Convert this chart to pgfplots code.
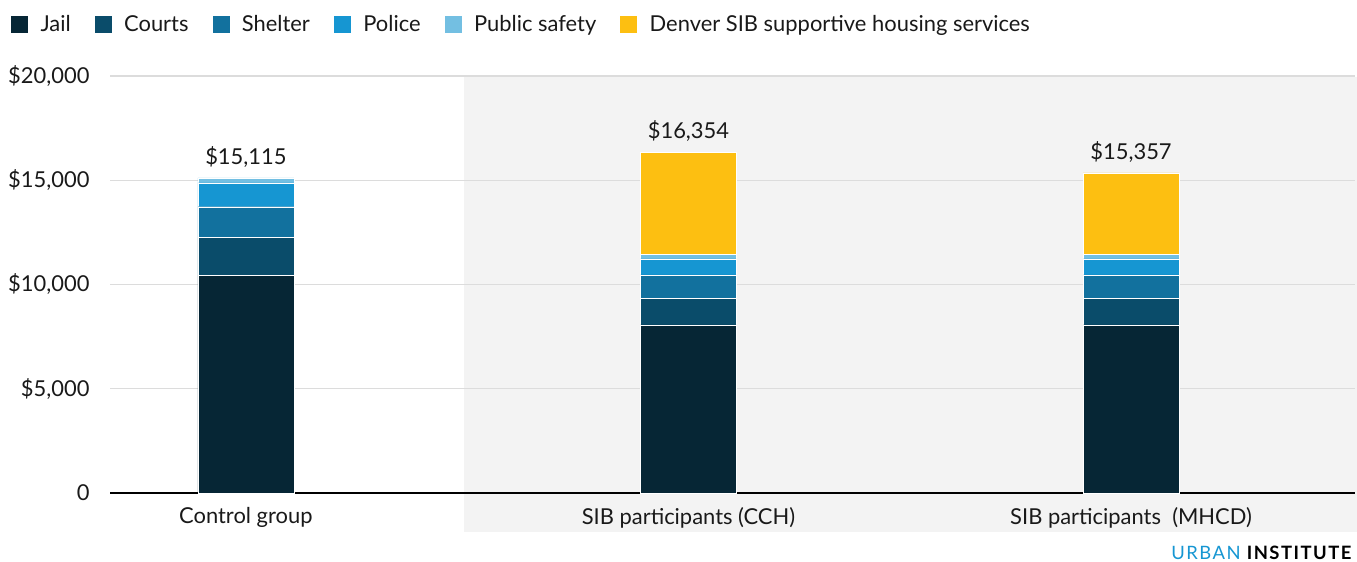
\documentclass[border=0pt]{standalone}
\usepackage{pgfplots}
\pgfplotsset{compat=1.18}
\usepackage{fontspec}
\setmainfont{Lato}
\definecolor{cJail}{HTML}{062635}
\definecolor{cCourts}{HTML}{0A4C6A}
\definecolor{cShelter}{HTML}{12719E}
\definecolor{cPolice}{HTML}{1696D2}
\definecolor{cPublic}{HTML}{73BFE2}
\definecolor{cHousing}{HTML}{FDBF11}
\definecolor{cBand}{HTML}{F3F3F3}
\definecolor{cGrid}{HTML}{DCDCDC}
\pgfplotsset{sq legend/.style={legend image code/.code={\fill[##1] (0bp,-9bp) rectangle (18bp,9bp);}}}
\begin{document}
\begin{tikzpicture}
\useasboundingbox (0,0) rectangle (1357bp,562bp);
\fill[cBand] (464bp,30bp) rectangle (1357bp,485bp);
\begin{axis}[
  at={(110bp,69bp)}, anchor=south west,
  scale only axis, width=1245bp, height=417bp,
  ybar stacked, bar width=96bp,
  xmin=-0.307, xmax=2.506, ymin=0, ymax=20000,
  xtick={0,1,2}, xticklabels={Control group, SIB participants (CCH), SIB participants\ \ (MHCD)},
  ytick={0,5000,10000,15000,20000},
  yticklabels={0,{\$5,000},{\$10,000},{\$15,000},{\$20,000}},
  scaled y ticks=false,
  ymajorgrids, grid style={cGrid, line width=1.4bp},
  axis x line*=bottom, axis y line*=left,
  x axis line style={black, line width=1.8bp},
  y axis line style={draw=none},
  major tick length=0pt,
  tick label style={font=\fontsize{22}{26}\selectfont, text=black!90},
  xticklabel style={yshift=-11bp},
  yticklabel style={xshift=-17bp},
  clip=false,
  legend columns=6,
  legend style={at={(-0.0803,1.1247)}, anchor=west, draw=none, fill=none, inner sep=0pt,
    font=\fontsize{22}{26}\selectfont, text=black!90,
    /tikz/every odd column/.append style={column sep=10bp},
    /tikz/every even column/.append style={column sep=21bp}},
  legend cell align=left,
]
\addplot[fill=cJail, draw=white, line width=0.4bp, sq legend] coordinates {(0,10450) (1,8060) (2,8060)};
\addplot[fill=cCourts, draw=white, line width=0.4bp, sq legend] coordinates {(0,1810) (1,1280) (2,1280)};
\addplot[fill=cShelter, draw=white, line width=0.4bp, sq legend] coordinates {(0,1470) (1,1120) (2,1120)};
\addplot[fill=cPolice, draw=white, line width=0.4bp, sq legend] coordinates {(0,1150) (1,770) (2,770)};
\addplot[fill=cPublic, draw=white, line width=0.4bp, sq legend] coordinates {(0,235) (1,225) (2,225)};
\addplot[fill=cHousing, draw=white, line width=0.4bp, sq legend] coordinates {(0,0) (1,4899) (2,3902)};
\legend{Jail, Courts, Shelter, Police, Public safety, Denver SIB supportive housing services}
\node[anchor=south, font=\fontsize{22}{26}\selectfont, text=black!90, inner sep=0pt, yshift=10bp] at (axis cs:0,15115) {\$15,115};
\node[anchor=south, font=\fontsize{22}{26}\selectfont, text=black!90, inner sep=0pt, yshift=10bp] at (axis cs:1,16354) {\$16,354};
\node[anchor=south, font=\fontsize{22}{26}\selectfont, text=black!90, inner sep=0pt, yshift=10bp] at (axis cs:2,15357) {\$15,357};
\end{axis}
\node[anchor=south east, inner sep=0pt, font=\fontsize{18.5}{22}\selectfont] at (1353bp,2bp) {\addfontfeatures{LetterSpace=8}\textcolor{cPolice}{URBAN} \textbf{INSTITUTE}};
\end{tikzpicture}
\end{document}
